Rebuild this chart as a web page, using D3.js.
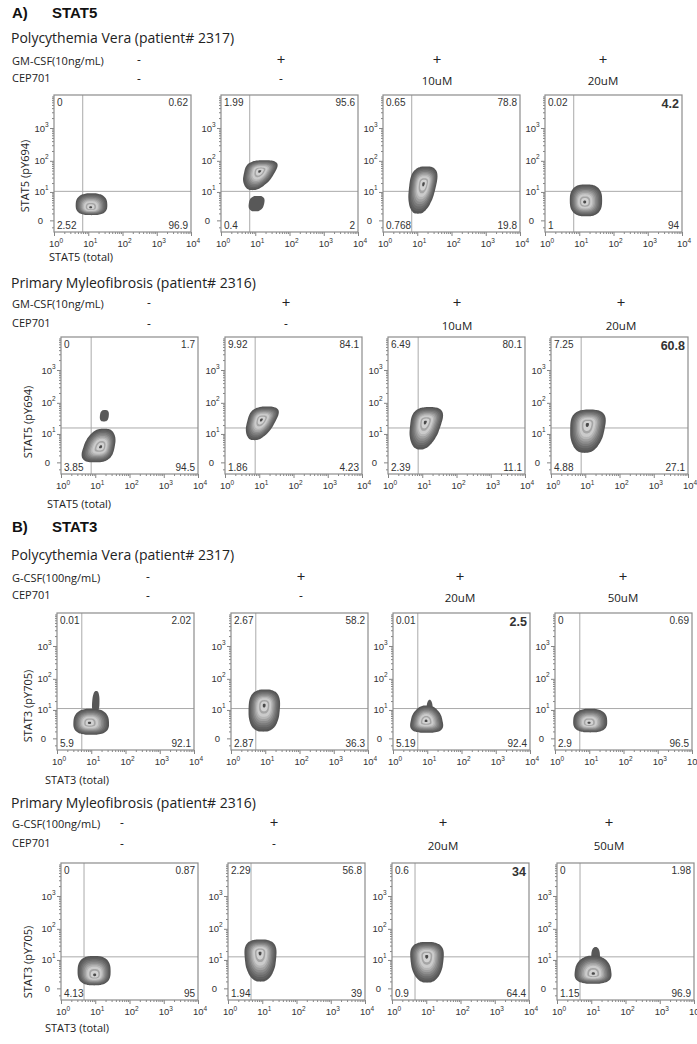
<!DOCTYPE html>
<html>
<head>
<meta charset="utf-8">
<script src="https://cdn.jsdelivr.net/npm/d3@7"></script>
<style>
  body { margin: 0; background: #fff; }
  svg { display: block; }
  .lbl { font-family: "Open Sans", sans-serif; fill: #222; }
  .num { font-family: "Liberation Sans", Arial, sans-serif; fill: #333; }
</style>
</head>
<body>
<svg id="fig" width="697" height="1044"></svg>
<script>
// ---- data ----
const sectionTags = ["A)", "B)"];
const sectionNames = ["STAT5", "STAT3"];

const diseases = [
  "Polycythemia Vera (patient# 2317)",
  "Primary Myleofibrosis (patient# 2316)",
  "Polycythemia Vera (patient# 2317)",
  "Primary Myleofibrosis (patient# 2316)"
];
const stimulants = ["GM-CSF(10ng/mL)", "GM-CSF(10ng/mL)", "G-CSF(100ng/mL)", "G-CSF(100ng/mL)"];
const stimSigns = [
  ["-", "+", "+", "+"], ["-", "+", "+", "+"], ["-", "+", "+", "+"], ["-", "+", "+", "+"]
];
const cepDoses = [
  ["-", "-", "10uM", "20uM"], ["-", "-", "10uM", "20uM"],
  ["-", "-", "20uM", "50uM"], ["-", "-", "20uM", "50uM"]
];
const yTitles = ["STAT5 (pY694)", "STAT5 (pY694)", "STAT3 (pY705)", "STAT3 (pY705)"];
const xTitles = ["STAT5 (total)", "STAT5 (total)", "STAT3 (total)", "STAT3 (total)"];

// quadrant percentages: upper-left, upper-right, lower-left, lower-right
const quadrants = [
  [[0, 0.62, 2.52, 96.9], [1.99, 95.6, 0.4, 2], [0.65, 78.8, 0.768, 19.8], [0.02, 4.2, 1, 94]],
  [[0, 1.7, 3.85, 94.5], [9.92, 84.1, 1.86, 4.23], [6.49, 80.1, 2.39, 11.1], [7.25, 60.8, 4.88, 27.1]],
  [[0.01, 2.02, 5.9, 92.1], [2.67, 58.2, 2.87, 36.3], [0.01, 2.5, 5.19, 92.4], [0, 0.69, 2.9, 96.5]],
  [[0, 0.87, 4.13, 95], [2.29, 56.8, 1.94, 39], [0.6, 34, 0.9, 64.4], [0, 1.98, 1.15, 96.9]]
];
const boldCol = [3, 3, 2, 2];

// quadrant gates (x = total, y = phospho)
const gateX = [6.9, 7.6, 5.3, 4.7];
const gateY = [10.5, 16, 11.2, 12.8];

// cell populations: extents, peak and shape
const populations = [
  { r: 0, c: 0, x0: 4.3, x1: 36, y0: 0.7, y1: 9.0, px: 11.7, py: 2.3, topW: 0.85, botW: 0.95, shear: 0 },
  { r: 0, c: 1, x0: 6.4, x1: 18.7, y0: 1.4, y1: 7.2, solid: true, topW: 0.9, botW: 0.8, shear: 0.15 },
  { r: 0, c: 1, x0: 4.4, x1: 45, y0: 11.5, y1: 105, px: 13.5, py: 48, topW: 0.85, botW: 0.4, shear: 0.25 },
  { r: 0, c: 2, x0: 5.5, x1: 39, y0: 0.94, y1: 67, px: 15.3, py: 19, topW: 0.8, botW: 0.5, shear: 0.2 },
  { r: 0, c: 3, x0: 5.3, x1: 46.6, y0: 0.52, y1: 18, px: 14.3, py: 4.1, topW: 0.85, botW: 0.85, shear: 0 },
  { r: 1, c: 0, x0: 13.6, x1: 25, y0: 26, y1: 60, solid: true, topW: 0.8, botW: 0.8, shear: 0.1 },
  { r: 1, c: 0, x0: 4.0, x1: 39, y0: 0, y1: 15.2, px: 14.5, py: 3.1, topW: 0.7, botW: 1, shear: 0.25 },
  { r: 1, c: 1, x0: 4.06, x1: 37.3, y0: 5.9, y1: 77, px: 11.5, py: 29.6, topW: 0.85, botW: 0.45, shear: 0.3 },
  { r: 1, c: 2, x0: 4.25, x1: 40.6, y0: 2.3, y1: 74, px: 12.2, py: 25, topW: 0.85, botW: 0.45, shear: 0.2 },
  { r: 1, c: 3, x0: 3.63, x1: 39.8, y0: 1.5, y1: 62, px: 11.5, py: 21, topW: 0.9, botW: 0.55, shear: 0.1 },
  { r: 2, c: 0, x0: 10.5, x1: 17.4, y0: 8.7, y1: 42, solid: true, topW: 0.7, botW: 1, shear: 0.1 },
  { r: 2, c: 0, x0: 3.0, x1: 33.1, y0: 0.46, y1: 11, px: 8.8, py: 3.1, topW: 0.85, botW: 1, shear: 0 },
  { r: 2, c: 1, x0: 3.25, x1: 27.1, y0: 0.94, y1: 47, px: 9.3, py: 14.6, topW: 0.85, botW: 0.7, shear: 0.05 },
  { r: 2, c: 2, x0: 9.5, x1: 14.5, y0: 8, y1: 22, solid: true, topW: 0.5, botW: 1, shear: 0 },
  { r: 2, c: 2, x0: 3.16, x1: 29.2, y0: 0.75, y1: 14.3, px: 9.2, py: 3.8, topW: 0.5, botW: 1, shear: 0 },
  { r: 2, c: 3, x0: 3.4, x1: 33.4, y0: 0.82, y1: 11, px: 9.8, py: 3.1, topW: 0.85, botW: 0.95, shear: 0 },
  { r: 3, c: 0, x0: 3.05, x1: 28.1, y0: 0.36, y1: 13.7, px: 9.65, py: 2.4, topW: 0.9, botW: 0.95, shear: 0 },
  { r: 3, c: 1, x0: 3.02, x1: 26.1, y0: 0.94, y1: 47, px: 8.6, py: 17.4, topW: 1, botW: 0.6, shear: 0 },
  { r: 3, c: 2, x0: 3.4, x1: 32.6, y0: 0.77, y1: 39, px: 10.3, py: 13.4, topW: 1, botW: 0.6, shear: 0 },
  { r: 3, c: 3, x0: 10, x1: 18, y0: 10, y1: 27, solid: true, topW: 0.6, botW: 1, shear: 0 },
  { r: 3, c: 3, x0: 3.25, x1: 39.1, y0: 0.6, y1: 14, px: 11.5, py: 2.8, topW: 0.65, botW: 1, shear: 0 }
];

const xMajor = [1, 10, 100, 1000, 10000];
const yMajor = [0, 10, 100, 1000];
const yMinor = [-1, 1, 2, 3, 4, 5, 6, 7, 8, 9, 20, 30, 40, 50, 60, 70, 80, 90,
  200, 300, 400, 500, 600, 700, 800, 900, 2000, 3000, 4000, 5000, 6000, 7000, 8000, 9000];

// contour levels (outer -> peak)
const levelScale = [1.0, 0.92, 0.84, 0.76, 0.68, 0.6, 0.52, 0.44, 0.32, 0.23, 0.09];
const levelFill = ["#555555", "#5f5f5f", "#6c6c6c", "#7b7b7b", "#8d8d8d", "#a1a1a1",
  "#b6b6b6", "#cbcbcb", "#a5a5a5", "#d2d2d2", "#4a4a4a"];

// ---- layout ----
const W = 137, H = 137;
const rowTop = [95, 337, 613, 863];
const colLeft = [[54, 221, 383, 545], [61, 225, 388, 551], [57, 231, 393, 555], [61, 228, 392, 557]];
const sectionY = [18, 532];
const diseaseY = [43, 288, 560, 808];
const stimY = [65, 308, 582, 828];
const cepY = [82, 327, 599, 847];
const signX = [[139, 281, 437, 603], [149, 286, 457, 621], [148, 301, 460, 623], [122, 274, 443, 609]];
const yTitlePos = [[25, 176], [28, 422], [28, 706], [28, 962]];
const xTitlePos = [[49, 261], [47, 508], [45, 784], [45, 1032]];

const svg = d3.select("#fig");

// section headers
sectionTags.forEach((t, i) => {
  const h = svg.append("text").attr("y", sectionY[i])
    .style("font-family", "'Liberation Sans', Arial, sans-serif")
    .style("font-weight", "bold").style("font-size", "15px").attr("fill", "#111");
  h.append("tspan").attr("x", 12).text(t);
  h.append("tspan").attr("x", 52).text(sectionNames[i]);
});

const line = d3.line().curve(d3.curveCardinalClosed.tension(0.3));

// outline of a population in pixel space, fitted to its extents
function outline(b, x, y) {
  const X0 = x(b.x0), X1 = x(b.x1), Yt = y(b.y1), Yb = y(b.y0);
  const pts = d3.range(0, 48).map(i => {
    const t = i / 48 * 2 * Math.PI;
    const u = Math.cos(t), v = Math.sin(t);
    const su = Math.sign(u) * Math.pow(Math.abs(u), 0.75);
    const sv = Math.sign(v) * Math.pow(Math.abs(v), 0.75);
    const w = b.topW + (b.botW - b.topW) * (v + 1) / 2;
    return [su * w - b.shear * sv, sv];
  });
  const ex = d3.extent(pts, p => p[0]), ey = d3.extent(pts, p => p[1]);
  return pts.map(p => [
    X0 + (p[0] - ex[0]) / (ex[1] - ex[0]) * (X1 - X0),
    Yt + (p[1] - ey[0]) / (ey[1] - ey[0]) * (Yb - Yt)
  ]);
}

function styleAxis(sel) {
  sel.select(".domain").remove();
  sel.selectAll("line").attr("stroke", "#666").attr("stroke-width", 0.8);
}

for (let r = 0; r < 4; r++) {
  // row captions
  svg.append("text").attr("class", "lbl").attr("x", 11).attr("y", diseaseY[r])
    .style("font-size", "14px").text(diseases[r]);
  svg.append("text").attr("class", "lbl").attr("x", 12).attr("y", stimY[r])
    .style("font-size", "11px").text(stimulants[r]);
  svg.append("text").attr("class", "lbl").attr("x", 12).attr("y", cepY[r])
    .style("font-size", "11px").text("CEP701");

  // axis titles
  svg.append("text").attr("class", "lbl")
    .attr("transform", `translate(${yTitlePos[r][0] + 4},${yTitlePos[r][1]}) rotate(-90)`)
    .attr("text-anchor", "middle").style("font-size", "11px").text(yTitles[r]);
  svg.append("text").attr("class", "lbl").attr("x", xTitlePos[r][0]).attr("y", xTitlePos[r][1])
    .style("font-size", "11px").text(xTitles[r]);

  for (let c = 0; c < 4; c++) {
    // treatment labels
    const sx = signX[r][c];
    const plus = stimSigns[r][c] === "+";
    svg.append("text").attr("class", "lbl").attr("x", sx).attr("y", stimY[r] + (plus ? 0 : -1))
      .attr("text-anchor", "middle").style("font-size", plus ? "15px" : "12px")
      .text(stimSigns[r][c]);
    const dash = cepDoses[r][c] === "-";
    svg.append("text").attr("class", "lbl").attr("x", sx).attr("y", cepY[r] + (dash ? 1 : 3))
      .attr("text-anchor", "middle").style("font-size", dash ? "12px" : "11.5px")
      .text(cepDoses[r][c]);

    const g = svg.append("g").attr("transform", `translate(${colLeft[r][c]},${rowTop[r]})`);
    const x = d3.scaleLog().domain([1, 1e4]).range([0, W]);
    const y = d3.scaleSymlog().constant(1.6).domain([-2, 1e4]).range([H, 0]);

    // x axis
    g.append("g").attr("transform", `translate(0,${H})`)
      .call(d3.axisBottom(x).tickValues(x.ticks().filter(v => !xMajor.includes(v))).tickSize(2).tickFormat(""))
      .call(styleAxis);
    g.append("g").attr("transform", `translate(0,${H})`)
      .call(d3.axisBottom(x).tickValues(xMajor).tickSize(4).tickFormat(""))
      .call(styleAxis);
    xMajor.forEach(v => {
      const t = g.append("text").attr("class", "num").attr("x", x(v) + 2).attr("y", H + 15)
        .attr("text-anchor", "middle").style("font-size", "9.5px").attr("fill", "#444");
      t.append("tspan").text("10");
      t.append("tspan").attr("dy", -4).style("font-size", "6.5px").text(Math.log10(v));
    });

    // y axis
    g.append("g").call(d3.axisLeft(y).tickValues(yMinor).tickSize(2).tickFormat("")).call(styleAxis);
    g.append("g").call(d3.axisLeft(y).tickValues(yMajor).tickSize(4).tickFormat("")).call(styleAxis);
    yMajor.forEach(v => {
      g.append("text").attr("class", "num").attr("x", v === 0 ? -11 : -9).attr("y", y(v) + 3.5)
        .attr("text-anchor", "end").style("font-size", "9.5px").attr("fill", "#444")
        .text(v === 0 ? "0" : "10");
      if (v !== 0) {
        g.append("text").attr("class", "num").attr("x", -9).attr("y", y(v) - 1.5)
          .style("font-size", "6.5px").attr("fill", "#444").text(Math.log10(v));
      }
    });

    // gates
    g.append("line").attr("x1", x(gateX[r])).attr("x2", x(gateX[r])).attr("y1", 0).attr("y2", H)
      .attr("stroke", "#aaa").attr("stroke-width", 1);
    g.append("line").attr("x1", 0).attr("x2", W).attr("y1", y(gateY[r])).attr("y2", y(gateY[r]))
      .attr("stroke", "#aaa").attr("stroke-width", 1);

    // populations
    populations.filter(b => b.r === r && b.c === c).forEach(b => {
      const pts = outline(b, x, y);
      if (b.solid) {
        g.append("path").attr("d", line(pts)).attr("fill", "#585858");
        return;
      }
      const pkx = x(b.px), pky = y(b.py);
      levelScale.forEach((f, i) => {
        const lp = pts.map(p => [pkx + (p[0] - pkx) * f, pky + (p[1] - pky) * f]);
        g.append("path").attr("d", line(lp)).attr("fill", levelFill[i]);
      });
    });

    // frame
    g.append("rect").attr("width", W).attr("height", H)
      .attr("fill", "none").attr("stroke", "#8c8c8c").attr("stroke-width", 1.2);

    // quadrant percentages
    const q = quadrants[r][c];
    const pos = [[3, 11, "start"], [W - 3, 11, "end"], [3, H - 3, "start"], [W - 3, H - 3, "end"]];
    q.forEach((v, i) => {
      const bold = i === 1 && c === boldCol[r];
      g.append("text").attr("class", "num").attr("x", pos[i][0]).attr("y", pos[i][1] + (bold ? 2 : 0))
        .attr("text-anchor", pos[i][2])
        .style("font-size", bold ? "12.5px" : "10px").style("font-weight", bold ? "bold" : "normal")
        .attr("fill", bold ? "#111" : "#333")
        .text(String(v));
    });
  }
}
</script>
</body>
</html>
